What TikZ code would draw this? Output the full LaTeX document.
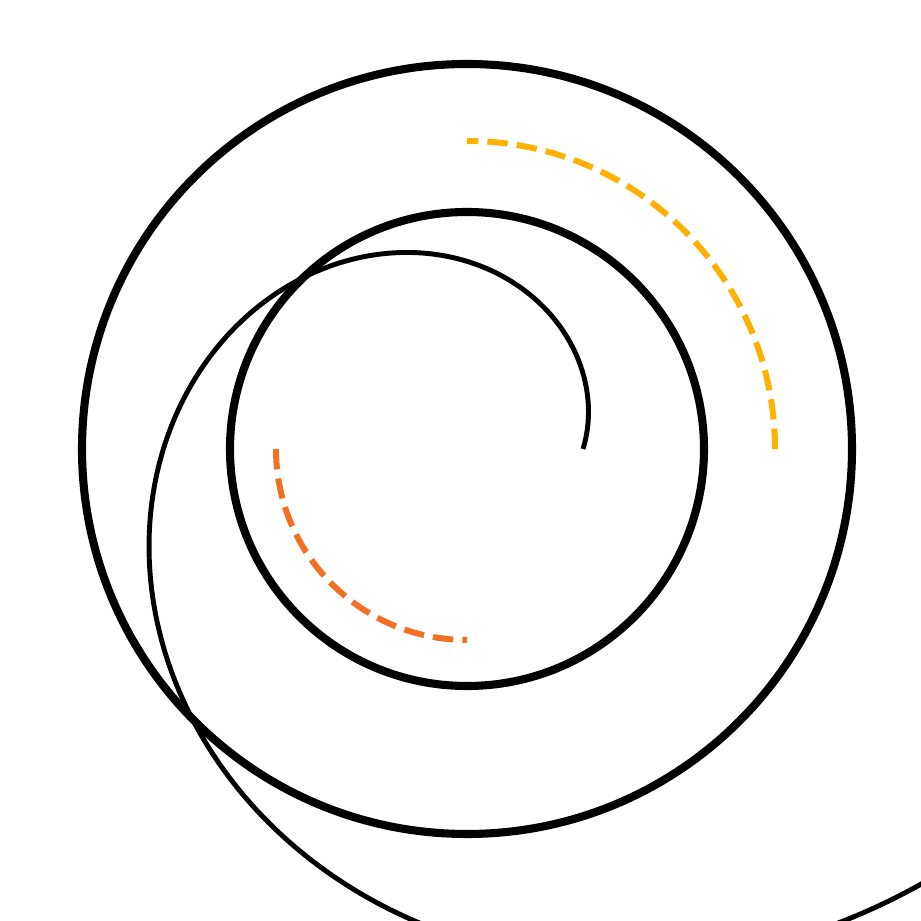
\documentclass[tikz,border=0pt]{standalone}
\definecolor{gold}{RGB}{255,176,0}
\definecolor{tangerine}{RGB}{242,112,36}
\tikzset{ring/.style={draw=black, line width=2.3pt}}
\tikzset{guide/.style={line width=1.7pt, dash pattern=on 5.8pt off 2.6pt}}
\tikzset{spiral/.style={draw=black, line width=1.4pt}}

\begin{document}
\begin{tikzpicture}[x=0.01cm, y=0.01cm]
    \useasboundingbox (0,0) rectangle (921,921);
    \clip (0,0) rectangle (921,921);
    \coordinate (c) at (467,472);

    % rings
    \draw[ring] (c) circle (385);
    \draw[ring] (c) circle (237);

    % dashed quarter arcs
    \draw[guide, gold] ([shift={(0:308)}]c) arc[start angle=0, end angle=90, radius=308];
    \draw[guide, tangerine] ([shift={(180:191)}]c) arc[start angle=180, end angle=270, radius=191];

    % golden spiral
    \begin{scope}[shift={(c)}]
        \draw[spiral] plot[domain=0:340, samples=240, smooth] (\x:{116*1.618^(\x/90)});
    \end{scope}
\end{tikzpicture}
\end{document}
